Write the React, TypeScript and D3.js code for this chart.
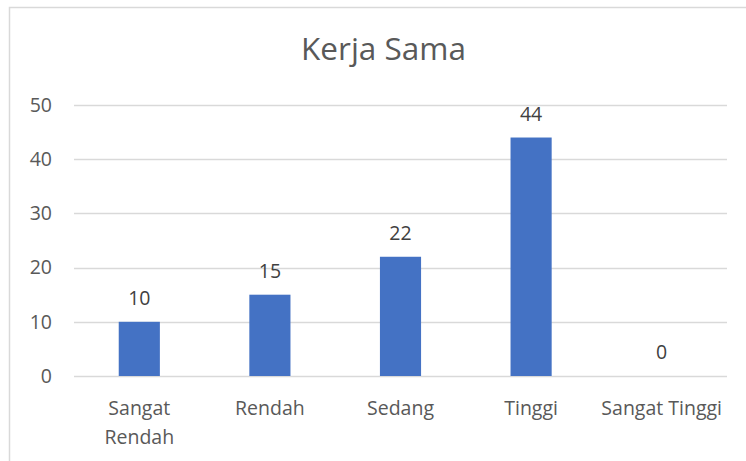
import React from "react";
import * as d3 from "d3";

const categories: string[][] = [["Sangat", "Rendah"], ["Rendah"], ["Sedang"], ["Tinggi"], ["Sangat Tinggi"]];
const values: number[] = [10, 15, 22, 44, 0];
const yTicks: number[] = [0, 10, 20, 30, 40, 50];
const title = "Kerja Sama";

const W = 746;
const H = 461;
const FONT = "'Open Sans', 'Noto Sans', sans-serif";

export default function App() {
  const x = d3.scaleBand<number>().domain(d3.range(values.length)).range([74, 727]).paddingInner(0.685).paddingOuter(0.3425);
  const band = d3.scaleBand<number>().domain(d3.range(values.length)).range([74, 727]);
  const y = d3.scaleLinear().domain([0, 50]).range([376, 105]);

  return (
    <div style={{ position: "absolute", left: 0, top: 0 }}>
      <svg width={W} height={H} style={{ display: "block" }}>
        <rect x={0} y={0} width={W} height={H} fill="#ffffff" />
        <path d={`M9.5,${H + 2} V7.5 H${W + 2}`} fill="none" stroke="#d9d9d9" strokeWidth={1.5} />
        <text x={383.5} y={60} textAnchor="middle" fontFamily={FONT} fontSize={31.5} fill="#595959">{title}</text>
        {yTicks.map((t) => (
          <g key={t}>
            <line x1={74} x2={727} y1={Math.round(y(t)) + 0.5} y2={Math.round(y(t)) + 0.5} stroke="#d9d9d9" strokeWidth={1.3} />
            <text x={52} y={y(t)} dy="0.35em" textAnchor="end" fontFamily={FONT} fontSize={19.5} fill="#595959">{t}</text>
          </g>
        ))}
        {values.map((v, i) => (
          <g key={i}>
            <rect x={x(i)} y={y(v)} width={x.bandwidth()} height={y(0) - y(v)} fill="#4472c4" />
            <text x={band(i)! + band.bandwidth() / 2} y={y(v) - 17} textAnchor="middle" fontFamily={FONT} fontSize={19.5} fill="#404040">{v}</text>
          </g>
        ))}
        {categories.map((lines, i) => (
          <text key={i} textAnchor="middle" fontFamily={FONT} fontSize={19.5} fill="#595959">
            {lines.map((l, j) => (
              <tspan key={j} x={band(i)! + band.bandwidth() / 2} y={415 + j * 29}>{l}</tspan>
            ))}
          </text>
        ))}
      </svg>
    </div>
  );
}
